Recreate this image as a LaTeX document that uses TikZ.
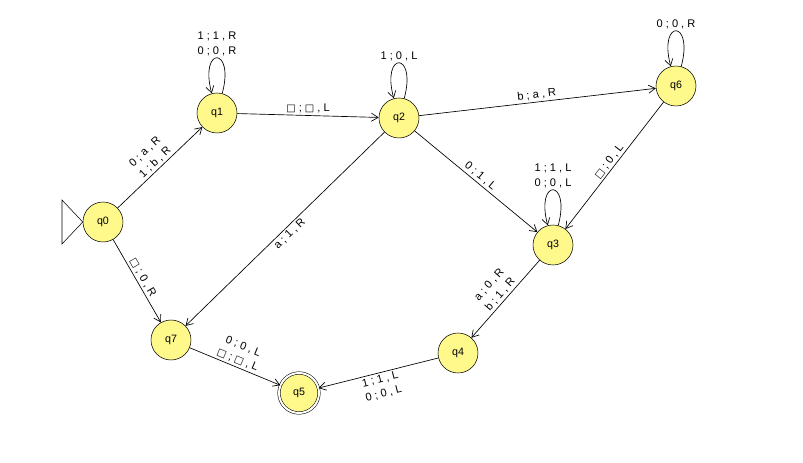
\documentclass[tikz,border=0pt]{standalone}
\usepackage{fontspec}
\setmainfont{Liberation Sans}
\newfontfamily\djv{DejaVu Sans}
\usetikzlibrary{arrows.meta}
\newcommand\bx{{\djv\scalebox{0.9}{□}}}
\begin{document}
\begin{tikzpicture}[x=0.75pt,y=-0.75pt,
  st/.style={circle,draw,fill=yellow!45,minimum size=30pt,inner sep=0pt,font=\fontsize{8}{9}\selectfont},
  tr/.style={draw,-{Straight Barb[length=5pt,width=6pt]},line width=0.5pt},
  lp/.style={out=75,in=105,looseness=12},
  lb/.style={font=\fontsize{8.3}{11}\selectfont,align=center,inner sep=1.5pt}]
\useasboundingbox (0,0) rectangle (803,463);
\node[st] (q0) at (103,222) {q0};
\node[st] (q1) at (217,113) {q1};
\node[st] (q2) at (399,118) {q2};
\node[st] (q6) at (676,86) {q6};
\node[st] (q3) at (553,245) {q3};
\node[st] (q4) at (458,353) {q4};
\node[st] (q7) at (171,340) {q7};
\node[st,double,double distance=1.5pt] (q5) at (299,393) {q5};
\draw (q0.west) -- (62,200) -- (62,244) -- cycle;
\path[tr] (q0) -- node[lb,sloped,above]{0 ; a , R\\1 ; b , R} (q1);
\path[tr] (q1) to[lp] node[lb,above]{1 ; 1 , R\\0 ; 0 , R} (q1);
\path[tr] (q1) -- node[lb,above]{\bx\ ; \bx\ , L} (q2);
\path[tr] (q2) to[lp] node[lb,above]{1 ; 0 , L} (q2);
\path[tr] (q2) -- node[lb,sloped,above]{b ; a , R} (q6);
\path[tr] (q6) to[lp] node[lb,above]{0 ; 0 , R} (q6);
\path[tr] (q6) -- node[lb,sloped,above]{\bx\ ; 0 , L} (q3);
\path[tr] (q2) -- node[lb,sloped,above]{0 ; 1 , L} (q3);
\path[tr] (q3) to[lp] node[lb,above]{1 ; 1 , L\\0 ; 0 , L} (q3);
\path[tr] (q2) -- node[lb,sloped,below]{a ; 1 , R} (q7);
\path[tr] (q0) -- node[lb,sloped,above]{\bx\ ; 0 , R} (q7);
\path[tr] (q3) -- node[lb,sloped,above]{a ; 0 , R\\b ; 1 , R} (q4);
\path[tr] (q4) -- node[lb,sloped,below]{1 ; 1 , L\\0 ; 0 , L} (q5);
\path[tr] (q7) -- node[lb,sloped,above]{0 ; 0 , L\\\bx\ ; \bx\ , L} (q5);
\end{tikzpicture}
\end{document}
